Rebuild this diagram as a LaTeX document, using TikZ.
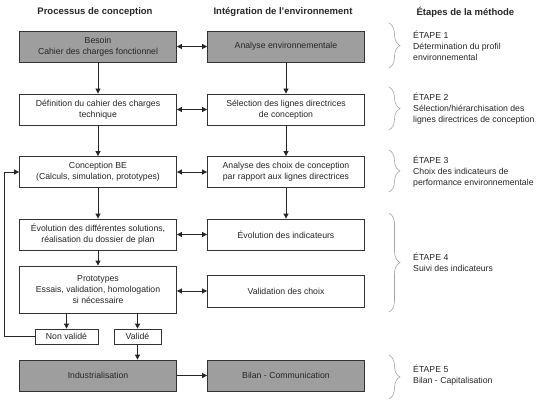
\documentclass[tikz,border=0pt]{standalone}
\usepackage{fontspec}
\setmainfont{Liberation Sans}
\usetikzlibrary{arrows.meta,decorations.pathreplacing}
\tikzset{
  box/.style={draw=black!80,line width=0.8pt,fill=white,minimum width=157pt,minimum height=31pt,
    align=center,inner sep=1pt,font=\fontsize{8.7}{11}\selectfont,text=black!85},
  graybox/.style={box,fill=black!38},
  smallbox/.style={box,minimum height=15pt},
  title/.style={font=\fontsize{9.5}{11}\selectfont\bfseries,text=black!85},
  stage/.style={anchor=west,align=left,inner sep=0pt,font=\fontsize{8.7}{11}\selectfont,text=black!85},
  arr/.style={-{Triangle[length=5pt,width=5pt]},line width=0.8pt,draw=black!85},
  dblarr/.style={{Triangle[length=5pt,width=5pt]}-{Triangle[length=5pt,width=5pt]},line width=0.8pt,draw=black!85},
  accolade/.style={decorate,decoration={brace,amplitude=11pt,aspect=0.5},draw=black!35,line width=0.6pt}
}
\begin{document}
\begin{tikzpicture}[x=1pt,y=-1pt]
  \useasboundingbox (0,0) rectangle (540,401);
  \draw
    (95,12) node[title] (t1){Processus de conception}
    (283,12) node[title] (t2){Intégration de l'environnement}
    (413,12) node[title,anchor=west] (t3){Étapes de la méthode};
  \draw
    (98,46.5) node[graybox] (b1){Besoin\\Cahier des charges fonctionnel}
    (98,109.5) node[box] (b2){Définition du cahier des charges\\technique}
    (98,172) node[box] (b3){Conception BE\\(Calculs, simulation, prototypes)}
    (98,234.5) node[box] (b4){Évolution des différentes solutions,\\réalisation du dossier de plan}
    (98,289.5) node[box,minimum height=47pt] (b5){Prototypes\\Essais, validation, homologation\\si nécessaire}
    (66.5,336.5) node[smallbox,minimum width=63pt] (nv){Non validé}
    (137.5,336.5) node[smallbox,minimum width=47pt] (v){Validé}
    (98,375.5) node[graybox] (b6){Industrialisation};
  \draw
    (286,46.5) node[graybox] (e1){Analyse environnementale}
    (286,109.5) node[box] (e2){Sélection des lignes directrices\\de conception}
    (286,172) node[box] (e3){Analyse des choix de conception\\par rapport aux lignes directrices}
    (286,234.5) node[box] (e4){Évolution des indicateurs}
    (286,291) node[box,minimum height=32pt] (e5){Validation des choix}
    (286,375.5) node[graybox] (e6){Bilan - Communication};
  \begin{scope}[arr]
    \draw (b1) to (b2);
    \draw (b2) to (b3);
    \draw (b3) to (b4);
    \draw (b4) to (b5);
    \draw (nv.north |- b5.south) to (nv);
    \draw (v.north |- b5.south) to (v);
    \draw (v.south) to (v.south |- b6.north);
    \draw (e1) to (e2);
    \draw (e2) to (e3);
    \draw (e3) to (e4);
    \draw (b6) to (e6);
    \draw (nv.west) -| (4,172) -- (b3.west);
  \end{scope}
  \begin{scope}[dblarr]
    \draw (b1) to (e1);
    \draw (b2) to (e2);
    \draw (b3) to (e3);
    \draw (b4) to (e4);
    \draw (b5.east |- e5) to (e5);
  \end{scope}
  \draw[accolade] (389,23) -- (389,68);
  \draw[accolade] (389,87) -- (389,130);
  \draw[accolade] (389,150) -- (389,192);
  \draw[accolade] (389,213) -- (389,312);
  \draw[accolade] (389,355) -- (389,399);
  \draw
    (413,46) node[stage] (s1){ÉTAPE 1\\Détermination du profil\\environnemental}
    (413,109) node[stage] (s2){ÉTAPE 2\\Sélection/hiérarchisation des\\lignes directrices de conception}
    (413,172) node[stage] (s3){ÉTAPE 3\\Choix des indicateurs de\\performance environnementale}
    (413,262.5) node[stage] (s4){ÉTAPE 4\\Suivi des indicateurs}
    (413,375.5) node[stage] (s5){ÉTAPE 5\\Bilan - Capitalisation};
\end{tikzpicture}
\end{document}
